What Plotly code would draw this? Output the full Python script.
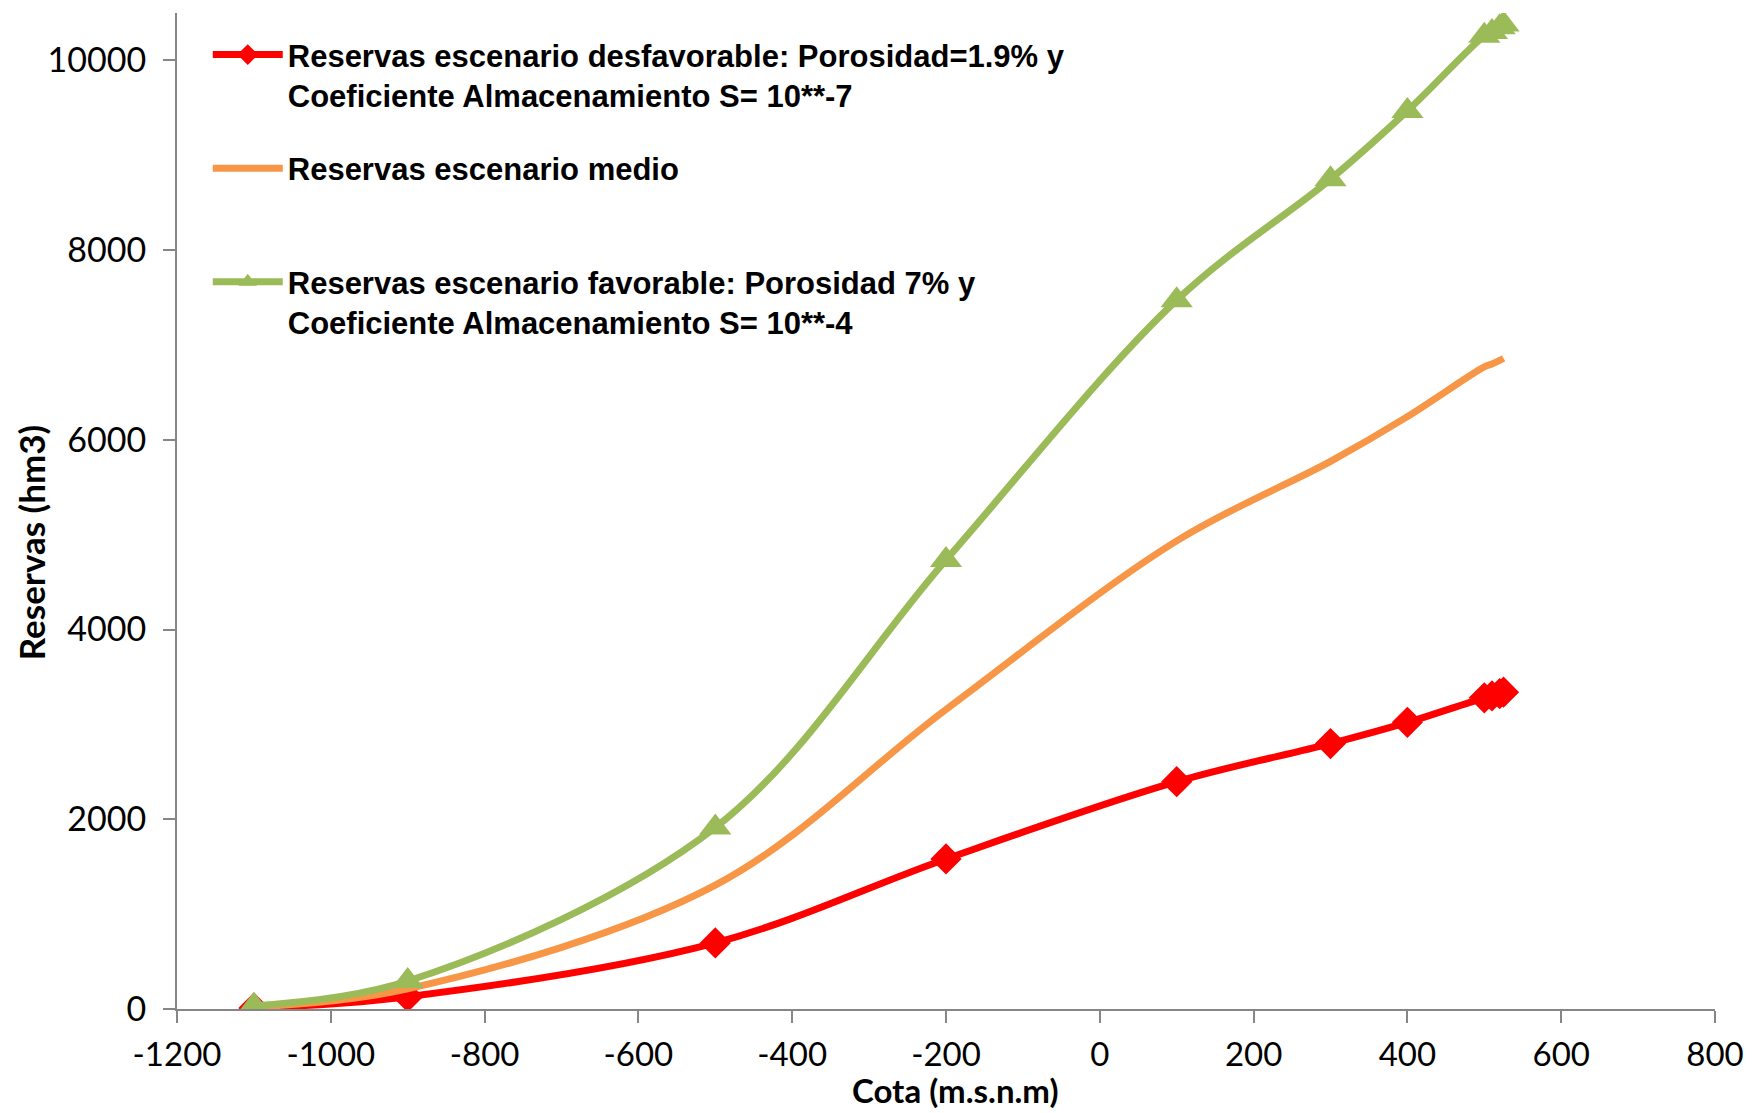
import plotly.graph_objects as go

# Cota (m.s.n.m)
cota = [-1100, -900, -500, -200, 100, 300, 400, 500, 510, 520, 525]

# Reservas (hm3)
res_desfavorable = [10, 130, 697, 1582, 2397, 2798, 3022, 3280, 3300, 3325, 3340]
res_medio = [22, 212, 1305, 3158, 4935, 5773, 6245, 6770, 6800, 6837, 6860]
res_favorable = [35, 295, 1913, 4734, 7473, 8748, 9468, 10260, 10300, 10350, 10380]

names = [
    "Reservas escenario desfavorable: Porosidad=1.9% y<br>Coeficiente Almacenamiento S= 10**-7",
    "Reservas escenario medio<br>\u00a0",
    "Reservas escenario favorable: Porosidad 7% y<br>Coeficiente Almacenamiento S= 10**-4",
]

x_ticks = [-1200, -1000, -800, -600, -400, -200, 0, 200, 400, 600, 800]
y_ticks = [0, 2000, 4000, 6000, 8000, 10000]

RED = "#FF0000"
ORANGE = "#F79646"
GREEN = "#9BBB59"
AXIS = "#868686"

fig = go.Figure()
fig.add_trace(go.Scatter(
    x=cota, y=res_desfavorable, name=names[0], legendgroup="a",
    mode="lines+markers",
    line=dict(color=RED, width=7, shape="spline"),
    marker=dict(symbol="diamond", size=24, color=RED),
))
fig.add_trace(go.Scatter(
    x=cota, y=res_medio, name=names[1], legendgroup="b",
    mode="lines",
    line=dict(color=ORANGE, width=7, shape="spline"),
))
fig.add_trace(go.Scatter(
    x=cota, y=res_favorable, name=names[2], legendgroup="c",
    mode="lines+markers",
    line=dict(color=GREEN, width=7, shape="spline"),
    marker=dict(symbol="triangle-up", size=28, color=GREEN),
))

fig.update_layout(
    width=1756, height=1113,
    margin=dict(l=177, r=36, t=13, b=104),
    paper_bgcolor="white", plot_bgcolor="white",
    showlegend=True,
    legend=dict(
        x=0.02, y=0.985, xanchor="left", yanchor="top",
        bgcolor="rgba(0,0,0,0)",
        font=dict(family="Liberation Sans, Arial, sans-serif", size=31, color="#000000", weight="bold"),
        tracegroupgap=30,
        itemwidth=70,
        valign="top",
    ),
    xaxis=dict(
        range=[-1200, 800], tickvals=x_ticks, ticktext=[str(v) for v in x_ticks],
        showgrid=False, zeroline=False,
        showline=True, linecolor=AXIS, linewidth=2,
        ticks="outside", ticklen=12, tickwidth=2, tickcolor=AXIS,
        tickfont=dict(family="Lato, Open Sans, sans-serif", size=33, color="#000000"),
        ticklabelstandoff=3,
    ),
    yaxis=dict(
        range=[0, 10500], tickvals=y_ticks, ticktext=[str(v) for v in y_ticks],
        showgrid=False, zeroline=False,
        showline=True, linecolor=AXIS, linewidth=2,
        ticks="outside", ticklen=12, tickwidth=2, tickcolor=AXIS,
        tickfont=dict(family="Lato, Open Sans, sans-serif", size=34, color="#000000"),
        ticklabelstandoff=10,
    ),
    annotations=[
        dict(text="Cota (m.s.n.m)", xref="paper", yref="paper", x=0.506, y=-0.1034,
             xanchor="center", yanchor="bottom", showarrow=False,
             font=dict(family="Lato, Open Sans, sans-serif", size=33, color="#000000", weight="bold")),
        dict(text="Reservas (hm3)", xref="paper", yref="paper", x=-0.0947, y=0.468,
             xanchor="center", yanchor="middle", textangle=-90, showarrow=False,
             font=dict(family="Lato, Open Sans, sans-serif", size=35, color="#000000", weight="bold")),
    ],
)

fig.write_html("out.html")
